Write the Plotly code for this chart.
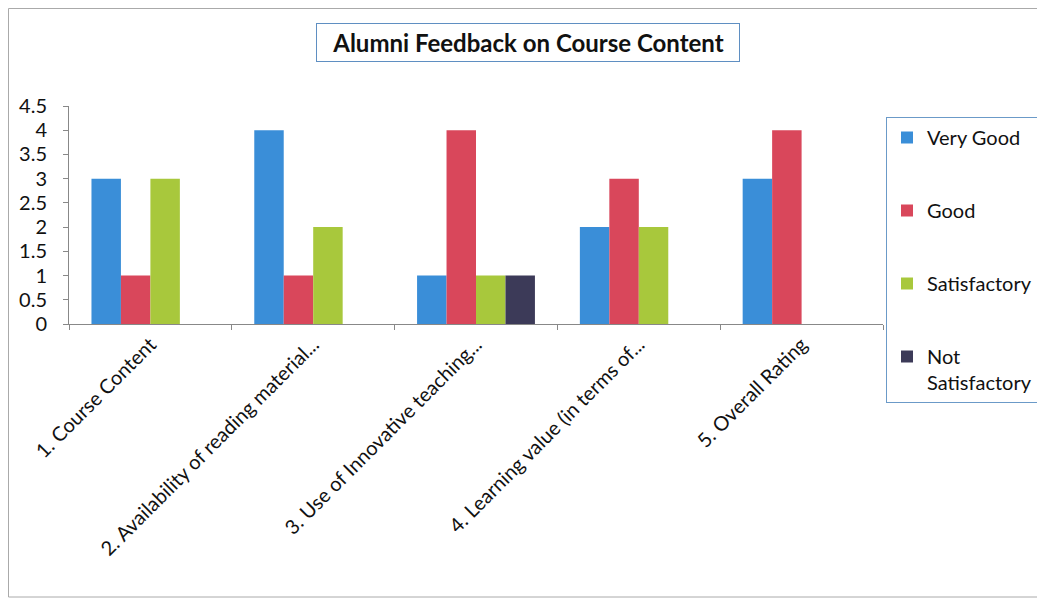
import plotly.graph_objects as go

categories = [
    "1. Course Content",
    "2. Availability of reading material...",
    "3. Use of Innovative teaching...",
    "4. Learning value (in terms of...",
    "5. Overall Rating",
]
series_names = ["Very Good", "Good", "Satisfactory", "Not<br>Satisfactory"]
very_good = [3, 4, 1, 2, 3]
good = [1, 1, 4, 3, 4]
satisfactory = [3, 2, 1, 2, 0]
not_satisfactory = [0, 0, 1, 0, 0]
series_values = [very_good, good, satisfactory, not_satisfactory]
colors = ["#3a8ed8", "#d9475b", "#a8c83c", "#3c3a58"]
y_ticks = [0, 0.5, 1, 1.5, 2, 2.5, 3, 3.5, 4, 4.5]
y_tick_text = ["0", "0.5", "1", "1.5", "2", "2.5", "3", "3.5", "4", "4.5"]

FONT = "Lato, 'Open Sans', sans-serif"

fig = go.Figure()
for i, (name, vals, col) in enumerate(zip(series_names, series_values, colors)):
    fig.add_trace(go.Bar(
        x=categories, y=vals, name=name,
        marker=dict(color=col, line=dict(width=0)),
        legendgroup=f"g{i}",
    ))

# page has an 8px body margin; positions below are in page pixels
OFF = 8
W, H = 1045, 600
L, R, T, B = 69 - OFF, 1045 - (883 - OFF), 106 - OFF, 600 - (324 - OFF)
pw, ph = W - L - R, H - T - B

def px_x(x):
    return (x - OFF - L) / pw

def px_y(y):
    return (H - B - (y - OFF)) / ph

fig.update_layout(
    width=W, height=H,
    margin=dict(l=L, r=R, t=T, b=B, autoexpand=False),
    paper_bgcolor="white", plot_bgcolor="white",
    barmode="group", bargap=0.276, bargroupgap=0,
    font=dict(family=FONT, color="#111111"),
    showlegend=True,
    legend=dict(
        x=px_x(886), y=px_y(117), xanchor="left", yanchor="top",
        bordercolor="#6b9ac8", borderwidth=1, bgcolor="white",
        font=dict(size=20, family=FONT, color="#111111"),
        tracegroupgap=44, valign="top", traceorder="grouped",
        entrywidth=200, maxheight=400,
    ),
    xaxis=dict(
        type="category", tickangle=-45, tickson="boundaries",
        ticks="outside", ticklen=5, tickcolor="#888888",
        showline=True, linecolor="#888888", linewidth=1,
        showgrid=False, tickfont=dict(size=20, family=FONT, color="#111111"),
        automargin=False,
    ),
    yaxis=dict(
        range=[0, 4.5], tickvals=y_ticks, ticktext=y_tick_text,
        ticks="outside", ticklen=5, tickcolor="#888888",
        showline=True, linecolor="#888888", linewidth=1,
        showgrid=False, zeroline=False, ticklabelstandoff=12,
        tickfont=dict(size=20, family=FONT, color="#111111"),
        automargin=False,
    ),
    annotations=[dict(
        text="<b>Alumni Feedback on Course Content</b>",
        xref="paper", yref="paper", x=px_x(528), y=px_y(42),
        xanchor="center", yanchor="middle", showarrow=False,
        font=dict(size=24, family=FONT, color="#111111"),
        bordercolor="#5f8fc2", borderwidth=1, borderpad=3,
        width=416, height=31, bgcolor="white",
    )],
    shapes=[dict(
        type="rect", xref="paper", yref="paper", layer="below",
        x0=px_x(8.5), x1=px_x(1070), y0=px_y(597), y1=px_y(8.5),
        line=dict(color="#aaaaaa", width=1),
    )],
)

fig.write_html("out.html")
